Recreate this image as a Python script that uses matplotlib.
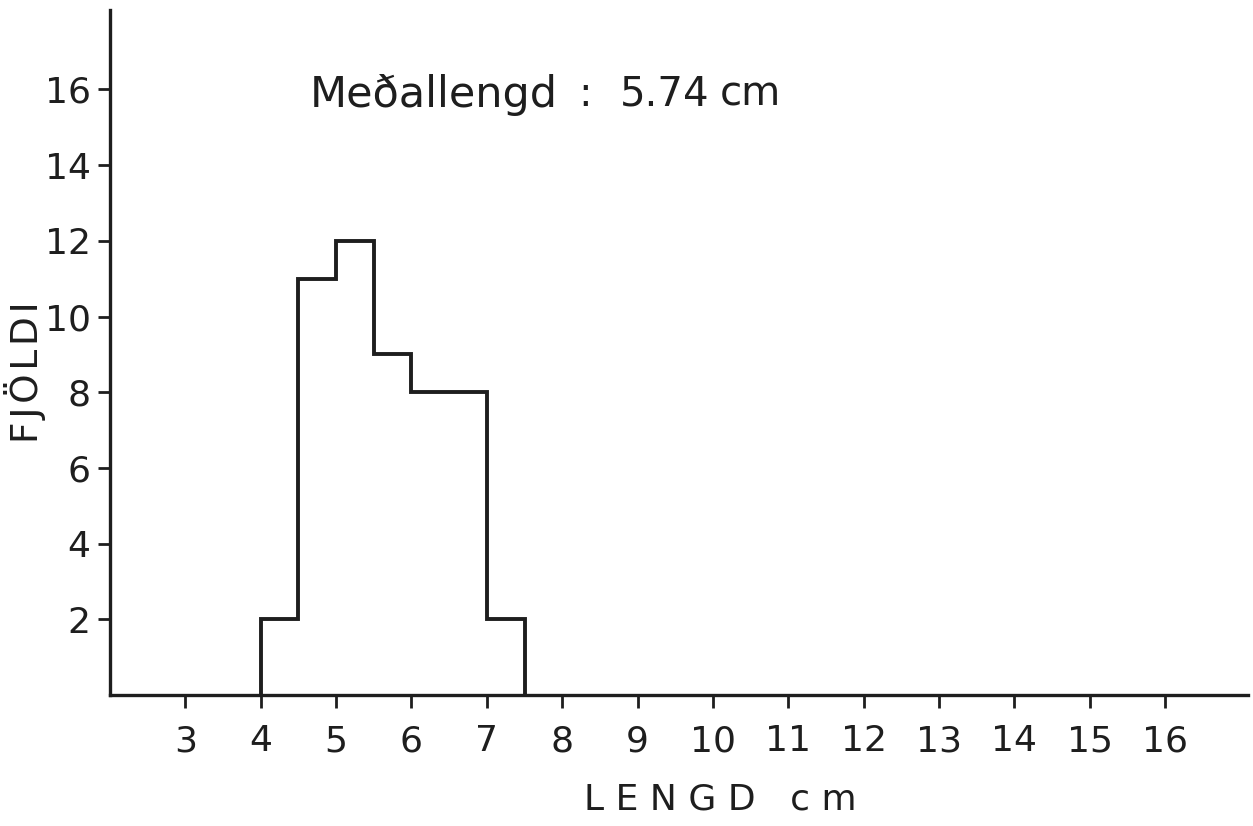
import matplotlib.pyplot as plt

# data
edges = [4.0, 4.5, 5.0, 5.5, 6.0, 6.5, 7.0, 7.5]
counts = [2, 11, 12, 9, 8, 8, 2]
x_ticks = list(range(3, 17))
y_ticks = list(range(2, 17, 2))
title_parts = ["Meðallengd", ":", "5.74", "cm"]
title_x = [310, 578, 620, 720]   # left edge of each part, pixels
title_size = [31, 29, 29, 29]

W, H = 1253, 826
plt.rcParams['font.family'] = ['DejaVu Sans']
ink = "#1e1e1e"

fig = plt.figure(figsize=(W / 100, H / 100), dpi=100)
ax = fig.add_axes([110 / W, 1 - 695 / H, 1138 / W, 685 / H])

ax.stairs(counts, edges, baseline=0, color=ink, linewidth=2.8)

ax.set_xlim(2, 17.1)
ax.set_ylim(0, 18.1)

for side in ["top", "right"]:
    ax.spines[side].set_visible(False)
for side in ["left", "bottom"]:
    ax.spines[side].set_linewidth(2.4)
    ax.spines[side].set_color(ink)

ax.set_xticks(x_ticks)
ax.set_yticks(y_ticks)
ax.tick_params(axis="both", direction="out", length=9, width=2,
               labelsize=26, colors=ink, pad=5)
ax.tick_params(axis="x", pad=12)

# axis titles placed where they sit on the scan
fig.text(720 / W, 1 - 800 / H, "L E N G D   c m", fontsize=26, color=ink,
         ha="center", va="center")
fig.text(25 / W, 1 - 372 / H, "F\u200aJ\u200aÖ\u200aL\u200aD\u200aI", fontsize=27,
         color=ink, ha="center", va="center", rotation=90)

for part, px, fs in zip(title_parts, title_x, title_size):
    fig.text(px / W, 1 - 95 / H, part, fontsize=fs, color=ink,
             ha="left", va="center")

fig.savefig("out.png", dpi=100)
